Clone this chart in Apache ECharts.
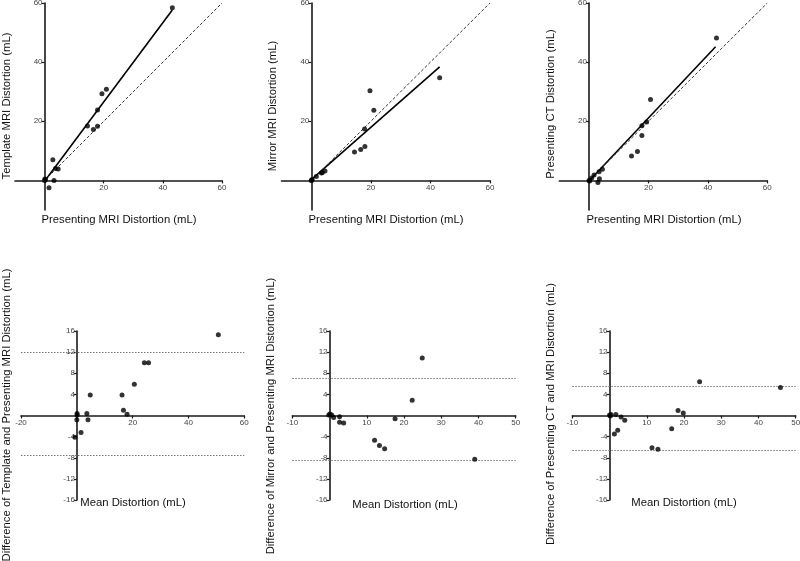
<!DOCTYPE html>
<html>
<head>
<meta charset="utf-8">
<script src="https://cdn.jsdelivr.net/npm/echarts@6/dist/echarts.min.js"></script>
<style>html,body{margin:0;padding:0;background:#fff;}#c{width:800px;height:561px;}</style>
</head>
<body>
<div id="c"></div>
<script>
// ---- Top row: agreement scatter plots ----
var presMRI_1 = [43.2, 20.9, 19.4, 17.9, 14.5, 16.5, 17.9, 2.8, 3.7, 4.6, 3.2, 1.5, 0, 0.3, 0.1];
var templateMRI = [58.4, 30.8, 29.3, 23.8, 18.4, 17.2, 18.3, 7.0, 4.0, 3.9, 0, -2.5, 0, 0.2, 0.5];
var regLine_1 = [[0, -0.3], [43.2, 57.6]];

var presMRI_2 = [43.1, 19.7, 21.0, 17.9, 18.0, 16.6, 14.5, 4.6, 3.7, 3.4, 1.7, 0.3, 0, 0.1];
var mirrorMRI = [34.7, 30.3, 23.7, 17.4, 11.5, 10.5, 9.6, 3.2, 2.7, 2.5, 1.3, 0.3, 0, 0.1];
var regLine_2 = [[0, 0.3], [43.1, 38.4]];

var presMRI_3 = [42.9, 20.7, 19.4, 17.8, 17.8, 16.3, 14.3, 4.5, 3.4, 1.7, 3.5, 3.0, 0.9, 0, 0.2];
var presCT = [48.2, 27.4, 19.8, 18.5, 15.2, 9.8, 8.3, 3.8, 2.9, 1.8, 0.6, -0.7, 0.8, 0, -0.2];
var regLine_3 = [[0, -0.2], [42.6, 45.2]];

var identityLine = [[0, 0], [60, 60]];
var topTicks = [20, 40, 60];

// ---- Bottom row: Bland-Altman plots ----
var mean_4 = [50.7, 24.2, 25.7, 20.6, 16.2, 16.7, 18.0, 4.8, 3.6, 4.0, 1.5, -0.7, 0.1, 0.1, 0.0];
var diff_4 = [15.3, 10.0, 10.0, 5.9, 3.9, 1.0, 0.25, 3.9, 0.4, -0.8, -3.2, -4.1, 0.4, 0.1, -0.8];
var limits_4 = [11.9, -7.6];

var mean_5 = [24.9, 22.2, 17.6, 12.1, 13.4, 14.8, 39.0, 2.7, 2.7, 3.8, 1.1, 0.6, 0.1, -0.2];
var diff_5 = [10.9, 2.9, -0.6, -4.7, -5.7, -6.3, -8.3, -0.25, -1.3, -1.4, -0.4, 0.1, 0.3, 0.1];
var limits_5 = [7.0, -8.5];

var mean_6 = [24.2, 45.9, 18.4, 19.8, 16.7, 11.4, 13.0, 1.7, 3.1, 4.1, 2.2, 1.3, 0, 0.4, 0.2];
var diff_6 = [6.4, 5.3, 0.95, 0.45, -2.5, -6.1, -6.4, 0.2, -0.3, -0.9, -2.8, -3.5, 0.1, 0.2, -0.1];
var limits_6 = [5.5, -6.6];

var baYTicks = [-16, -12, -8, -4, 4, 8, 12, 16];
var baXTicks_4 = [-20, 20, 40, 60];
var baXTicks_56 = [-10, 10, 20, 30, 40, 50];

var topXTitle = 'Presenting MRI Distortion (mL)';
var topYTitles = ['Template MRI Distortion (mL)', 'Mirror MRI Distortion (mL)', 'Presenting CT Distortion (mL)'];
var botXTitle = 'Mean Distortion (mL)';
var botYTitles = ['Difference of Template and Presenting MRI Distortion (mL)',
                  'Difference of Mirror and Presenting MRI Distortion (mL)',
                  'Difference of Presenting CT and MRI Distortion (mL)'];

function pairs(xs, ys) { return xs.map(function (x, i) { return [x, ys[i]]; }); }

var FONT = 'Liberation Sans, Arial, sans-serif';
var AX = '#1a1a1a';

var grids = [
  { left: 15, top: 3, width: 207, height: 207 },
  { left: 281.5, top: 3, width: 208.5, height: 207 },
  { left: 559.3, top: 3, width: 208, height: 207 },
  { left: 21, top: 331, width: 223.3, height: 169 },
  { left: 292.3, top: 331, width: 223.4, height: 169 },
  { left: 572.3, top: 331, width: 223.4, height: 169 }
].map(function (g) { g.containLabel = false; g.outerBoundsMode = 'none'; return g; });

var xRanges = [[-10, 60, 10], [-10, 60, 10], [-10, 60, 10], [-20, 60, 20], [-10, 50, 10], [-10, 50, 10]];
var yRanges = [[-10, 60, 10], [-10, 60, 10], [-10, 60, 10], [-16, 16, 4], [-16, 16, 4], [-16, 16, 4]];
var xTicks = [topTicks, topTicks, topTicks, baXTicks_4, baXTicks_56, baXTicks_56];
var yTicks = [topTicks, topTicks, topTicks, baYTicks, baYTicks, baYTicks];

function axis(r, ticks, isX, offset, gi) {
  return {
    type: 'value', gridIndex: gi, min: r[0], max: r[1], interval: r[2],
    position: isX ? 'bottom' : 'left', offset: offset,
    axisLine: { show: true, onZero: false, lineStyle: { color: AX, width: 1.6 } },
    axisTick: { show: true, length: 3, customValues: ticks, lineStyle: { color: AX, width: 1.2 } },
    axisLabel: { show: true, customValues: ticks, fontSize: 8, color: '#444', fontFamily: FONT, margin: isX ? 3 : 2 },
    splitLine: { show: false }
  };
}

var xAxes = [], yAxes = [];
grids.forEach(function (g, i) {
  var xr = xRanges[i], yr = yRanges[i];
  // place each axis line where the other axis is zero
  var xOff = -(0 - yr[0]) / (yr[1] - yr[0]) * g.height;
  var yOff = -(0 - xr[0]) / (xr[1] - xr[0]) * g.width;
  xAxes.push(axis(xr, xTicks[i], true, xOff, i));
  yAxes.push(axis(yr, yTicks[i], false, yOff, i));
});

var series = [];
function scatter(idx, data) {
  series.push({ type: 'scatter', xAxisIndex: idx, yAxisIndex: idx, data: data, symbolSize: 5,
    itemStyle: { color: '#000' }, z: 5 });
}
function line(idx, data, dashed) {
  series.push({ type: 'line', xAxisIndex: idx, yAxisIndex: idx, data: data, symbol: 'none', showSymbol: false,
    lineStyle: dashed ? { color: '#333', width: 1, type: [3, 2] } : { color: '#000', width: 1.6 }, z: 3 });
}
function limits(idx, lims) {
  series.push({ type: 'line', xAxisIndex: idx, yAxisIndex: idx, data: [], symbol: 'none',
    markLine: { silent: true, symbol: ['none', 'none'], label: { show: false },
      lineStyle: { color: '#777', width: 1, type: [1.5, 1.5] },
      data: lims.map(function (v) { return { yAxis: v }; }) } });
}

scatter(0, pairs(presMRI_1, templateMRI)); line(0, regLine_1, false); line(0, identityLine, true);
scatter(1, pairs(presMRI_2, mirrorMRI)); line(1, regLine_2, false); line(1, identityLine, true);
scatter(2, pairs(presMRI_3, presCT)); line(2, regLine_3, false); line(2, identityLine, true);
scatter(3, pairs(mean_4, diff_4)); limits(3, limits_4);
scatter(4, pairs(mean_5, diff_5)); limits(4, limits_5);
scatter(5, pairs(mean_6, diff_6)); limits(5, limits_6);

function txt(s, x, y, rot) {
  return { type: 'text', x: x, y: y, rotation: rot ? Math.PI / 2 : 0,
    style: { text: s, fontSize: 11.3, fontFamily: FONT, fill: '#111', align: 'center', verticalAlign: 'middle' } };
}
var graphics = [
  txt(topXTitle, 119, 220), txt(topXTitle, 386, 220), txt(topXTitle, 664, 220),
  txt(topYTitles[0], 7, 106, true), txt(topYTitles[1], 273, 106, true), txt(topYTitles[2], 551, 104, true),
  txt(botXTitle, 133, 503), txt(botXTitle, 405, 505), txt(botXTitle, 684, 503),
  txt(botYTitles[0], 7, 415, true), txt(botYTitles[1], 271, 416, true), txt(botYTitles[2], 551, 414, true)
];

var chart = echarts.init(document.getElementById('c'), null, { renderer: 'canvas' });
chart.setOption({
  animation: false,
  backgroundColor: '#fff',
  grid: grids, xAxis: xAxes, yAxis: yAxes, series: series,
  graphic: graphics
});
</script>
</body>
</html>
